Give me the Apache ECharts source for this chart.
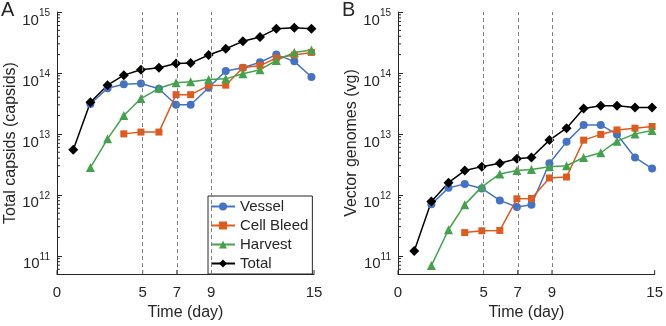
<!DOCTYPE html>
<html>
<head>
<meta charset="utf-8">
<title>Capsids and vector genomes</title>
<script src="https://cdn.jsdelivr.net/npm/echarts@6/dist/echarts.min.js"></script>
<style>
  html, body { margin: 0; padding: 0; background: #fff; }
  #chart { width: 666px; height: 326px; }
</style>
</head>
<body>
<div id="chart"></div>
<script>
// sampling times (day), shared by both panels
const days = [0.95, 1.95, 2.95, 3.9, 4.9, 5.95, 6.95, 7.8, 8.85, 9.85, 10.85, 11.85, 12.8, 13.85, 14.85];

// A: total capsids
const capsidVessel = [null, 3.1e13, 5.6e13, 6.5e13, 6.7e13, 5.5e13, 3.0e13, 3.0e13, 5.7e13, 1.08e14, 1.22e14, 1.5e14, 2.0e14, 1.55e14, 8.6e13];
const capsidBleed = [null, null, null, 1.0e13, 1.07e13, 1.07e13, 4.4e13, 4.4e13, 6.2e13, 6.3e13, 1.22e14, 1.32e14, 1.76e14, 1.97e14, 2.17e14];
const capsidHarvest = [null, 2.8e12, 8.3e12, 2.0e13, 3.8e13, 5.6e13, 6.9e13, 7.2e13, 7.8e13, 8.0e13, 9.7e13, 1.13e14, 1.6e14, 2.17e14, 2.37e14];
const capsidTotal = [5.5e12, 3.3e13, 6.3e13, 9.2e13, 1.13e14, 1.22e14, 1.43e14, 1.45e14, 1.97e14, 2.5e14, 3.3e14, 3.9e14, 5.3e14, 5.5e14, 5.3e14];

// B: vector genomes
const vgVessel = [null, 7.0e11, 1.3e12, 1.5e12, 1.27e12, 8.1e11, 6.3e11, 6.9e11, 3.3e12, 7.4e12, 1.4e13, 1.4e13, 9.8e12, 4.1e12, 2.7e12];
const vgBleed = [null, null, null, 2.4e11, 2.57e11, 2.6e11, 8.6e11, 8.7e11, 1.89e12, 1.96e12, 7.9e12, 9.8e12, 1.16e13, 1.24e13, 1.32e13];
const vgHarvest = [null, 6.9e10, 2.67e11, 6.9e11, 1.35e12, 2.2e12, 2.5e12, 2.6e12, 2.9e12, 3.0e12, 4.1e12, 4.9e12, 7.6e12, 1.0e13, 1.14e13];
const vgTotal = [1.2e11, 7.8e11, 1.58e12, 2.5e12, 2.9e12, 3.3e12, 3.9e12, 4.1e12, 7.9e12, 1.24e13, 2.6e13, 2.9e13, 2.9e13, 2.7e13, 2.7e13];

// axis ticks
const xTicks = [0, 5, 7, 9, 15];
const dashedDays = [5, 7, 9];
const yMin = 5e10;
const yMax = 1e15;

const seriesNames = ["Vessel", "Cell Bleed", "Harvest", "Total"];
const seriesColors = ["#4473C5", "#E05A1C", "#45A24C", "#000000"];
const seriesSymbols = ["circle", "rect", "triangle", "diamond"];
const symbolSizes = [8, 7, 9, 10];

const FONT = "Liberation Sans, Arial, sans-serif";
const INK = "#262626";

// minor ticks of the log axis: 2..9 x 10^d
const minorTicks = [];
for (let d = 10; d < 15; d++) {
  for (let m = 2; m <= 9; m++) {
    const v = m * Math.pow(10, d);
    if (v > yMin && v < yMax) minorTicks.push(v);
  }
}

const chart = echarts.init(document.getElementById("chart"), null, { renderer: "canvas" });

const grids = [
  { left: 57, top: 12, width: 257, height: 268 },
  { left: 398, top: 12, width: 258, height: 268 },
];

const makeXAxis = (gridIndex) => ({
  type: "value",
  gridIndex,
  min: 0,
  max: 15,
  name: "Time (day)",
  nameLocation: "middle",
  nameGap: 27,
  nameTextStyle: { fontFamily: FONT, fontSize: 16, color: INK },
  axisLine: { lineStyle: { color: INK, width: 1 } },
  axisTick: { show: false },
  axisLabel: { customValues: xTicks, margin: 11, fontFamily: FONT, fontSize: 15, color: INK },
  splitLine: { show: false },
});

const logLabel = (v) => {
  const e = Math.log10(v);
  const r = Math.round(e);
  if (Math.abs(e - r) > 1e-6) return "";
  return "{b|10}{sup|" + r + "}";
};

const makeYAxis = (gridIndex, name, nameGap) => ({
  type: "log",
  logBase: 10,
  gridIndex,
  min: yMin,
  max: yMax,
  name,
  nameLocation: "middle",
  nameGap,
  nameTextStyle: { fontFamily: FONT, fontSize: 16, color: INK },
  axisLine: { show: true, lineStyle: { color: INK, width: 1 } },
  axisTick: { inside: true, length: 5, lineStyle: { color: INK } },
  axisLabel: {
    formatter: logLabel,
    margin: 7,
    verticalAlign: "top",
    color: INK,
    rich: {
      b: { fontFamily: FONT, fontSize: 15, color: INK, lineHeight: 16, verticalAlign: "bottom" },
      sup: { fontFamily: FONT, fontSize: 10, color: INK, lineHeight: 2, padding: [0, 0, 14, 0] },
    },
  },
  splitLine: { show: false },
});

// short inward tick marks, placed through the axes' own scales
const tickSeries = (panel) => ({
  type: "custom",
  xAxisIndex: panel,
  yAxisIndex: panel,
  silent: true,
  clip: false,
  z: 1,
  data: minorTicks.map((v) => [0, v]).concat(xTicks.map((d) => [d, yMin])),
  renderItem: (params, api) => {
    const p = api.coord([api.value(0), api.value(1)]);
    const isX = params.dataIndex >= minorTicks.length;
    const shape = isX
      ? { x1: p[0], y1: p[1], x2: p[0], y2: p[1] - 4 }
      : { x1: p[0], y1: p[1], x2: p[0] + 3, y2: p[1] };
    return { type: "line", shape, style: { stroke: INK, lineWidth: 1 } };
  },
});

const toPairs = (values) =>
  values.map((v, i) => (v == null ? null : [days[i], v])).filter((p) => p !== null);

const makeSeries = (idx, values, panel) => {
  const s = {
    type: "line",
    name: seriesNames[idx],
    xAxisIndex: panel,
    yAxisIndex: panel,
    data: toPairs(values),
    symbol: seriesSymbols[idx],
    symbolSize: symbolSizes[idx],
    showAllSymbol: true,
    color: seriesColors[idx],
    lineStyle: { color: seriesColors[idx], width: 1.5 },
    itemStyle: { color: seriesColors[idx], borderWidth: 0 },
    emphasis: { disabled: true },
  };
  // dashed day markers
  if (idx === 0) {
    s.markLine = {
      silent: true,
      symbol: ["none", "none"],
      label: { show: false },
      lineStyle: { color: "#808080", width: 1, type: [4, 3] },
      data: dashedDays.map((d) => ({ xAxis: d })),
    };
  }
  return s;
};

const option = {
  animation: false,
  title: [
    { text: "A", left: 1, top: 0, padding: 0, textStyle: { fontFamily: FONT, fontSize: 20, fontWeight: "normal", color: INK } },
    { text: "B", left: 342, top: 0, padding: 0, textStyle: { fontFamily: FONT, fontSize: 20, fontWeight: "normal", color: INK } },
  ],
  grid: grids,
  xAxis: [makeXAxis(0), makeXAxis(1)],
  yAxis: [
    makeYAxis(0, "Total capsids (capsids)", 30),
    makeYAxis(1, "Vector genomes (vg)", 38),
  ],
  legend: {
    data: seriesNames,
    orient: "vertical",
    left: 208,
    top: 196,
    padding: [3, 4, 3, 2],
    itemWidth: 24,
    itemHeight: 10,
    itemGap: 4,
    backgroundColor: "#fff",
    borderColor: INK,
    borderWidth: 1,
    borderRadius: 0,
    selectedMode: false,
    textStyle: { fontFamily: FONT, fontSize: 15, color: INK },
  },
  series: [
    tickSeries(0),
    tickSeries(1),
    makeSeries(0, capsidVessel, 0),
    makeSeries(1, capsidBleed, 0),
    makeSeries(2, capsidHarvest, 0),
    makeSeries(3, capsidTotal, 0),
    makeSeries(0, vgVessel, 1),
    makeSeries(1, vgBleed, 1),
    makeSeries(2, vgHarvest, 1),
    makeSeries(3, vgTotal, 1),
  ],
};

chart.setOption(option);
</script>
</body>
</html>
